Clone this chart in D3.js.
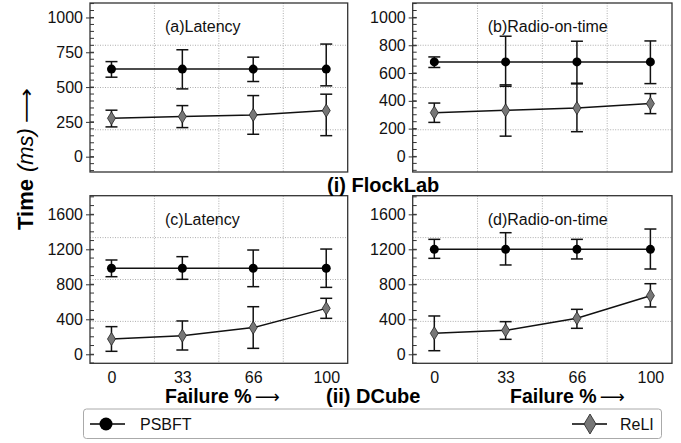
<!DOCTYPE html>
<html>
<head>
<meta charset="utf-8">
<script src="https://cdn.jsdelivr.net/npm/d3@7"></script>
<style>
  body { margin: 0; background: #fff; }
  svg { font-family: "Liberation Sans", Arial, sans-serif; }
</style>
</head>
<body>
<svg width="681" height="443"></svg>
<script>
// data
var failure = [0, 33, 66, 100];
var xTickLabels = ["0", "33", "66", "100"];
var panelTitles = ["(a)Latency", "(b)Radio-on-time", "(c)Latency", "(d)Radio-on-time"];
var seriesNames = ["PSBFT", "ReLI"];

// (a) FlockLab latency
var aPsbft = [629, 629, 629, 629];
var aPsbftLo = [571, 487, 540, 509];
var aPsbftHi = [683, 768, 715, 809];
var aReli = [276, 288, 300, 331];
var aReliLo = [214, 209, 161, 151];
var aReliHi = [334, 367, 439, 449];

// (b) FlockLab radio-on-time
var bPsbft = [680, 680, 680, 680];
var bPsbftLo = [640, 505, 527, 524];
var bPsbftHi = [716, 865, 829, 831];
var bReli = [315, 332, 348, 380];
var bReliLo = [245, 146, 178, 308];
var bReliHi = [384, 515, 522, 452];

// (c) DCube latency
var cPsbft = [983, 983, 983, 983];
var cPsbftLo = [887, 857, 773, 765];
var cPsbftHi = [1078, 1116, 1192, 1203];
var cReli = [175, 213, 305, 525];
var cReliLo = [34, 49, 68, 411];
var cReliHi = [316, 381, 544, 640];

// (d) DCube radio-on-time
var dPsbft = [1200, 1200, 1200, 1200];
var dPsbftLo = [1097, 1021, 1090, 975];
var dPsbftHi = [1314, 1390, 1314, 1432];
var dReli = [240, 274, 411, 670];
var dReliLo = [41, 171, 297, 541];
var dReliHi = [438, 373, 514, 807];

var yTicksA = [0, 250, 500, 750, 1000];
var yTicksB = [0, 200, 400, 600, 800, 1000];
var yTicksBottom = [0, 400, 800, 1200, 1600];

var svg = d3.select("svg");

var panels = [
  {x0: 90, x1: 347.7, y0: 3, y1: 172, ydom: [-110, 1104], ticks: yTicksA, minor: 50, xlabels: false,
   s: [[aPsbft, aPsbftLo, aPsbftHi], [aReli, aReliLo, aReliHi]]},
  {x0: 412.7, x1: 672, y0: 3, y1: 172, ydom: [-112, 1104], ticks: yTicksB, minor: 50, xlabels: false,
   s: [[bPsbft, bPsbftLo, bPsbftHi], [bReli, bReliLo, bReliHi]]},
  {x0: 90, x1: 347.7, y0: 195.7, y1: 363.3, ydom: [-103, 1813], ticks: yTicksBottom, minor: 100, xlabels: true,
   s: [[cPsbft, cPsbftLo, cPsbftHi], [cReli, cReliLo, cReliHi]]},
  {x0: 412.7, x1: 672, y0: 195.7, y1: 363.3, ydom: [-103, 1813], ticks: yTicksBottom, minor: 100, xlabels: true,
   s: [[dPsbft, dPsbftLo, dPsbftHi], [dReli, dReliLo, dReliHi]]}
];

function diamond(w, h) {
  return "M0," + (-h) + "L" + w + ",0L0," + h + "L" + (-w) + ",0Z";
}

panels.forEach(function(p, pi) {
  var x = d3.scaleLinear().domain([-10, 110]).range([p.x0, p.x1]);
  var y = d3.scaleLinear().domain(p.ydom).range([p.y1, p.y0]);
  var g = svg.append("g");

  // grid at quarters of the frame
  [0.25, 0.5, 0.75].forEach(function(f) {
    g.append("line")
      .attr("x1", p.x0 + (p.x1 - p.x0) * f).attr("x2", p.x0 + (p.x1 - p.x0) * f)
      .attr("y1", p.y0).attr("y2", p.y1)
      .attr("stroke", "#999").attr("stroke-width", 0.8).attr("stroke-dasharray", "1,1.5");
    g.append("line")
      .attr("x1", p.x0).attr("x2", p.x1)
      .attr("y1", p.y0 + (p.y1 - p.y0) * f).attr("y2", p.y0 + (p.y1 - p.y0) * f)
      .attr("stroke", "#999").attr("stroke-width", 0.8).attr("stroke-dasharray", "1,1.5");
  });

  // minor ticks
  var minorTicks = d3.range(Math.ceil(p.ydom[0] / p.minor) * p.minor, p.ydom[1], p.minor);
  g.selectAll(".minor").data(minorTicks).enter().append("line")
    .attr("x1", p.x0).attr("x2", p.x0 + 4)
    .attr("y1", function(d) { return y(d); }).attr("y2", function(d) { return y(d); })
    .attr("stroke", "#333").attr("stroke-width", 1);

  // y axis
  var yAxis = d3.axisLeft(y).tickValues(p.ticks).tickFormat(d3.format("d")).tickSize(4).tickPadding(3);
  var ya = g.append("g").attr("transform", "translate(" + p.x0 + ",0)").call(yAxis);
  ya.select(".domain").remove();
  ya.selectAll("line").attr("stroke", "#333").attr("x2", -4).attr("x1", 4);
  ya.selectAll("text").attr("font-size", 16).attr("fill", "#111")
    .attr("font-family", "Liberation Sans, Arial, sans-serif");

  if (p.xlabels) {
    var xAxis = d3.axisBottom(x).tickValues(failure).tickFormat(function(d, i) { return xTickLabels[i]; })
      .tickSize(0).tickPadding(8);
    var xa = g.append("g").attr("transform", "translate(0," + p.y1 + ")").call(xAxis);
    xa.select(".domain").remove();
    xa.selectAll("text").attr("font-size", 16).attr("fill", "#111")
      .attr("font-family", "Liberation Sans, Arial, sans-serif");
  }

  // frame
  g.append("rect")
    .attr("x", p.x0).attr("y", p.y0)
    .attr("width", p.x1 - p.x0).attr("height", p.y1 - p.y0)
    .attr("fill", "none").attr("stroke", "#333").attr("stroke-width", 1.3);

  // title
  g.append("text")
    .attr("x", p.x0 + 75).attr("y", p.y0 + 29)
    .attr("font-size", 16).attr("fill", "#111")
    .text(panelTitles[pi]);

  // series
  p.s.forEach(function(ser, si) {
    var mean = ser[0], lo = ser[1], hi = ser[2];
    var line = d3.line().x(function(d, i) { return x(failure[i]); }).y(function(d) { return y(d); });
    g.append("path").datum(mean).attr("d", line)
      .attr("fill", "none").attr("stroke", "#111").attr("stroke-width", 1.5);

    failure.forEach(function(f, i) {
      var cx = x(f);
      g.append("line").attr("x1", cx).attr("x2", cx).attr("y1", y(lo[i])).attr("y2", y(hi[i]))
        .attr("stroke", "#111").attr("stroke-width", 1.5);
      [lo[i], hi[i]].forEach(function(v) {
        g.append("line").attr("x1", cx - 6).attr("x2", cx + 6).attr("y1", y(v)).attr("y2", y(v))
          .attr("stroke", "#111").attr("stroke-width", 1.5);
      });
    });

    failure.forEach(function(f, i) {
      if (si === 0) {
        g.append("circle").attr("cx", x(f)).attr("cy", y(mean[i])).attr("r", 4.5).attr("fill", "#000");
      } else {
        g.append("path").attr("d", diamond(4, 6.5))
          .attr("transform", "translate(" + x(f) + "," + y(mean[i]) + ")")
          .attr("fill", "#777").attr("stroke", "#222").attr("stroke-width", 0.8);
      }
    });
  });
});

// labels
svg.append("text").attr("x", 327).attr("y", 192)
  .attr("font-size", 20).attr("font-weight", "bold").attr("fill", "#000")
  .text("(i) FlockLab");
svg.append("text").attr("x", 326).attr("y", 403)
  .attr("font-size", 20).attr("font-weight", "bold").attr("fill", "#000")
  .text("(ii) DCube");

[165, 510].forEach(function(xx) {
  var t = svg.append("text").attr("x", xx).attr("y", 403).attr("font-size", 19.5).attr("fill", "#000");
  t.append("tspan").attr("font-weight", "bold").text("Failure %");
  t.append("tspan").attr("font-family", "DejaVu Sans").attr("font-size", 18).attr("dx", 3)
    .attr("textLength", 25).attr("lengthAdjust", "spacingAndGlyphs").text("\u27F6");
});

var yl = svg.append("text")
  .attr("transform", "translate(33,230) rotate(-90)")
  .attr("text-anchor", "start").attr("fill", "#000").attr("font-size", 22);
yl.append("tspan").attr("font-weight", "bold").text("Time");
yl.append("tspan").attr("font-style", "italic").attr("font-size", 22).attr("dx", 7).text("(ms)");
yl.append("tspan").attr("font-family", "DejaVu Sans").attr("font-size", 20).attr("dx", 5)
  .attr("textLength", 35).attr("lengthAdjust", "spacingAndGlyphs").text("\u27F6");

// legend
var lg = svg.append("g");
lg.append("rect").attr("x", 83.5).attr("y", 409).attr("width", 578).attr("height", 29.5)
  .attr("rx", 3).attr("fill", "#fff").attr("stroke", "#aaa").attr("stroke-width", 1);
lg.append("line").attr("x1", 90).attr("x2", 125).attr("y1", 424).attr("y2", 424)
  .attr("stroke", "#000").attr("stroke-width", 1.5);
lg.append("circle").attr("cx", 106).attr("cy", 424).attr("r", 6.5).attr("fill", "#000");
lg.append("text").attr("x", 140).attr("y", 430).attr("font-size", 16).attr("fill", "#111").text(seriesNames[0]);
lg.append("line").attr("x1", 572).attr("x2", 607).attr("y1", 424).attr("y2", 424)
  .attr("stroke", "#000").attr("stroke-width", 1.5);
lg.append("path").attr("d", diamond(6, 10)).attr("transform", "translate(590,424)")
  .attr("fill", "#777").attr("stroke", "#222").attr("stroke-width", 0.8);
lg.append("text").attr("x", 620).attr("y", 430).attr("font-size", 16).attr("fill", "#111").text(seriesNames[1]);
</script>
</body>
</html>
